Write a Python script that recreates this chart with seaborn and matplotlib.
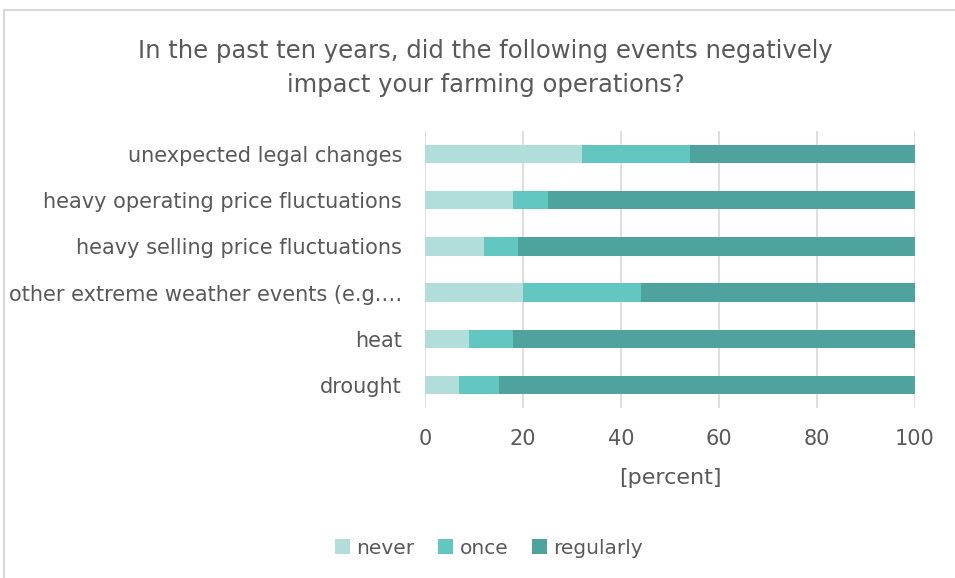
import matplotlib
matplotlib.use("Agg")
import matplotlib.pyplot as plt
import seaborn as sns
import pandas as pd
import numpy as np
from matplotlib.patches import Patch, Rectangle

categories = [
    "unexpected legal changes",
    "heavy operating price fluctuations",
    "heavy selling price fluctuations",
    "other extreme weather events (e.g.\u2026",
    "heat",
    "drought",
]
never = [32, 18, 12, 20, 9, 7]
once = [22, 7, 7, 24, 9, 8]
regularly = [46, 75, 81, 56, 82, 85]
series_names = ["never", "once", "regularly"]
colors = ["#B1DDDA", "#62C6C1", "#4EA39E"]
title = "In the past ten years, did the following events negatively\nimpact your farming operations?"
xticks = [0, 20, 40, 60, 80, 100]

sns.set_theme(style="white")
plt.rcParams["font.family"] = ["DejaVu Sans"]
text_color = "#595959"

df = pd.DataFrame({"category": categories, "never": never, "once": once, "regularly": regularly})
df["c1"] = df["never"]
df["c2"] = df["never"] + df["once"]
df["c3"] = df["never"] + df["once"] + df["regularly"]

fig = plt.figure(figsize=(9.55, 5.78), dpi=100)
ax = fig.add_axes([425 / 955, 1 - 408 / 578, 490 / 955, 277 / 578])

for col, color in zip(["c3", "c2", "c1"], colors[::-1]):
    sns.barplot(data=df, y="category", x=col, orient="h", color=color,
                width=0.4, ax=ax, saturation=1, edgecolor="none", zorder=3)

ax.set_xlim(0, 100)
ax.set_ylim(5.5, -0.5)
ax.set_xticks(xticks)
ax.set_xticklabels([str(t) for t in xticks], fontsize=15, color=text_color)
ax.tick_params(axis="y", labelsize=15, labelcolor=text_color, length=0, pad=16.5)
ax.tick_params(axis="x", length=0, pad=15)
ax.set_ylabel("")
ax.set_xlabel("[percent]", fontsize=16, color=text_color, labelpad=14)
ax.grid(axis="x", color="#D9D9D9", linewidth=1.2, zorder=0)
ax.set_axisbelow(True)
for s in ax.spines.values():
    s.set_visible(False)

fig.text(0.5 * (133 + 838) / 955, 1 - 68 / 578, title, ha="center", va="center",
         fontsize=17.5, color=text_color, linespacing=1.5)

handles = [Patch(facecolor=c, edgecolor="none") for c in colors]
fig.legend(handles, series_names, loc="center", bbox_to_anchor=(489 / 955, 1 - 548 / 578),
           ncol=3, frameon=False, fontsize=14.5, labelcolor=text_color,
           handlelength=0.75, handleheight=0.75, handletextpad=0.3, columnspacing=1.2)

# chart border (partially cropped in the reference)
fig.add_artist(Rectangle((4 / 955, -0.1), 1.2, 1 - 10 / 578 + 0.1, transform=fig.transFigure,
                         fill=False, edgecolor="#D9D9D9", linewidth=1.5))

fig.savefig("out.png", dpi=100, facecolor="white")
